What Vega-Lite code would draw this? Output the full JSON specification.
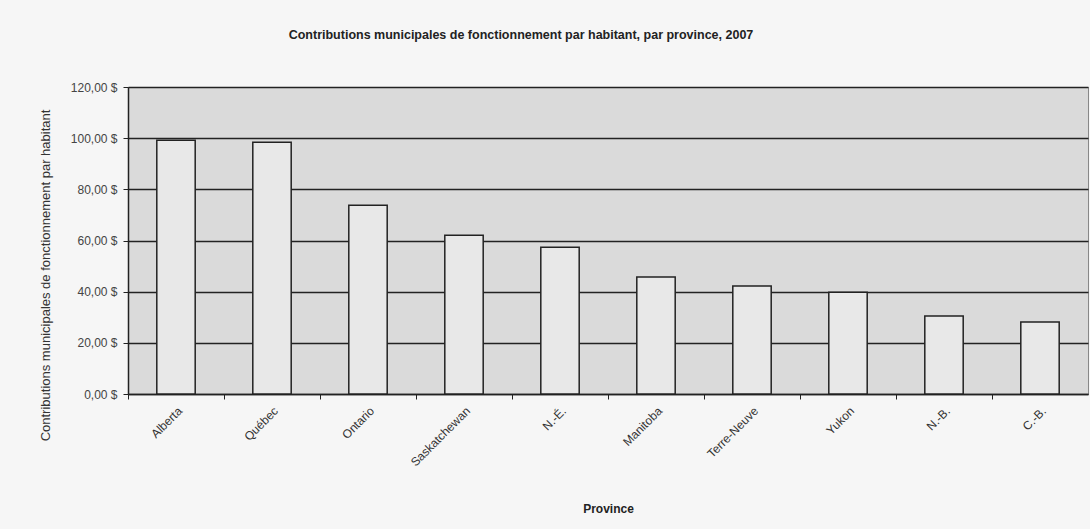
{
  "$schema": "https://vega.github.io/schema/vega-lite/v6.json",
  "autosize": {"type": "none"},
  "padding": {"left": 128, "top": 87, "right": 2, "bottom": 135},
  "width": 960,
  "height": 307,
  "background": "#f6f6f6",
  "title": {
    "text": "Contributions municipales de fonctionnement par habitant, par province, 2007",
    "font": "Liberation Sans",
    "fontSize": 12.5,
    "fontWeight": "bold",
    "color": "#222222",
    "anchor": "middle",
    "dx": -87,
    "offset": 40
  },
  "data": {
    "values": [
      {"province": "Alberta", "valeur": 99.2},
      {"province": "Québec", "valeur": 98.4},
      {"province": "Ontario", "valeur": 73.8},
      {"province": "Saskatchewan", "valeur": 62.1},
      {"province": "N.-É.", "valeur": 57.4},
      {"province": "Manitoba", "valeur": 45.7},
      {"province": "Terre-Neuve", "valeur": 42.2},
      {"province": "Yukon", "valeur": 39.8},
      {"province": "N.-B.", "valeur": 30.5},
      {"province": "C.-B.", "valeur": 28.1}
    ]
  },
  "mark": {"type": "bar", "fill": "#e8e8e8", "stroke": "#222222", "strokeWidth": 1.5},
  "encoding": {
    "x": {
      "field": "province",
      "type": "nominal",
      "sort": null,
      "scale": {"paddingInner": 0.6, "paddingOuter": 0.3},
      "axis": {
        "title": "Province",
        "titleFont": "Liberation Sans",
        "titleFontSize": 12,
        "titleFontWeight": "bold",
        "titleColor": "#222222",
        "titleY": 114,
        "titleBaseline": "middle",
        "labelAngle": -45,
        "labelAlign": "right",
        "labelBaseline": "top",
        "labelPadding": 6,
        "labelOffset": 48,
        "labelFont": "Liberation Sans",
        "labelFontSize": 12,
        "labelColor": "#333333",
        "tickOffset": -48,
        "tickSize": 5,
        "tickColor": "#222222",
        "domainColor": "#222222",
        "domainWidth": 1.5,
        "grid": false
      }
    },
    "y": {
      "field": "valeur",
      "type": "quantitative",
      "scale": {"domain": [0, 120], "nice": false},
      "axis": {
        "values": [0, 20, 40, 60, 80, 100, 120],
        "labelExpr": "replace(format(datum.value, '.2f'), '.', ',') + ' $'",
        "labelFont": "Liberation Sans",
        "labelFontSize": 12,
        "labelColor": "#444444",
        "labelPadding": 6,
        "tickSize": 5,
        "tickColor": "#222222",
        "domainColor": "#222222",
        "domainWidth": 1.5,
        "grid": true,
        "gridColor": "#222222",
        "gridWidth": 1.5,
        "title": "Contributions municipales de fonctionnement par habitant",
        "titleFont": "Liberation Sans",
        "titleFontSize": 13,
        "titleFontWeight": "normal",
        "titleColor": "#333333",
        "titleAngle": 270,
        "titleX": -83,
        "titleY": 188,
        "titleAlign": "center",
        "titleBaseline": "middle"
      }
    }
  },
  "config": {
    "view": {"fill": "#dadada", "stroke": "#888888", "strokeWidth": 1}
  }
}
